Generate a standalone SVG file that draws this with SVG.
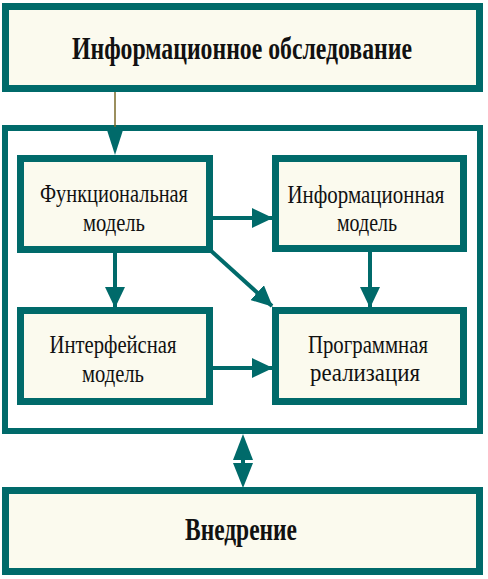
<svg xmlns="http://www.w3.org/2000/svg" width="488" height="579" viewBox="0 0 488 579">
<style>
.box{fill:#FBFAEE;stroke:#006A6A;stroke-width:7}
.frame{fill:#FFFFFF;stroke:#006A6A;stroke-width:6}
.t{font-family:"Liberation Serif","Times New Roman",serif;fill:#111;text-anchor:middle}
.big{font-size:31px;font-weight:bold}
.mid{font-size:25px}
.ln{stroke:#006A6A;stroke-width:4;fill:none}
.ah{fill:#006A6A}
</style>
<defs>
<marker id="arr" markerUnits="userSpaceOnUse" markerWidth="22" markerHeight="20" refX="20" refY="10" orient="auto">
<path d="M0,0 L21,10 L0,20 z" fill="#006A6A"/>
</marker>
</defs>
<rect class="frame" x="5" y="128" width="475" height="303"/>
<g id="connectors">
<line x1="115" y1="92" x2="115" y2="127" stroke="#7A6A28" stroke-width="1.5"/>
<polygon class="ah" points="106,127 124,127 115,155"/>
<line class="ln" x1="115" y1="253" x2="115" y2="307" marker-end="url(#arr)"/>
<line class="ln" x1="213" y1="218" x2="272" y2="218" marker-end="url(#arr)"/>
<line class="ln" x1="209" y1="249" x2="272" y2="306" marker-end="url(#arr)"/>
<line class="ln" x1="370" y1="252" x2="370" y2="307" marker-end="url(#arr)"/>
<line class="ln" x1="213" y1="368" x2="272" y2="368" marker-end="url(#arr)"/>
<line class="ln" x1="243" y1="457" x2="243" y2="466"/>
<polygon class="ah" points="233,460 253,460 243,434"/>
<polygon class="ah" points="233,463 253,463 243,488"/>
</g>
<g id="top">
<rect class="box" x="5.5" y="6.5" width="474" height="82"/>
<text class="t big" transform="translate(242,59) scale(0.8,1)" x="0" y="0" textLength="425" lengthAdjust="spacingAndGlyphs">Информационное обследование</text>
</g>
<g id="func">
<rect class="box" x="20.5" y="158.5" width="189" height="91"/>
<text class="t mid" x="114" y="202" textLength="148" lengthAdjust="spacingAndGlyphs">Функциональная</text>
<text class="t mid" x="114" y="231" textLength="62" lengthAdjust="spacingAndGlyphs">модель</text>
</g>
<g id="info">
<rect class="box" x="275.5" y="158.5" width="188" height="90"/>
<text class="t mid" x="366" y="203" textLength="157" lengthAdjust="spacingAndGlyphs">Информационная</text>
<text class="t mid" x="367" y="231" textLength="60" lengthAdjust="spacingAndGlyphs">модель</text>
</g>
<g id="iface">
<rect class="box" x="20.5" y="310.5" width="189" height="91"/>
<text class="t mid" x="113" y="353" textLength="127" lengthAdjust="spacingAndGlyphs">Интерфейсная</text>
<text class="t mid" x="113" y="382" textLength="62" lengthAdjust="spacingAndGlyphs">модель</text>
</g>
<g id="prog">
<rect class="box" x="275.5" y="310.5" width="188" height="91"/>
<text class="t mid" x="368" y="353" textLength="120" lengthAdjust="spacingAndGlyphs">Программная</text>
<text class="t mid" x="365" y="381" textLength="110" lengthAdjust="spacingAndGlyphs">реализация</text>
</g>
<g id="impl">
<rect class="box" x="5.5" y="490.5" width="474" height="81"/>
<text class="t big" x="241" y="540" textLength="112" lengthAdjust="spacingAndGlyphs">Внедрение</text>
</g>
</svg>
